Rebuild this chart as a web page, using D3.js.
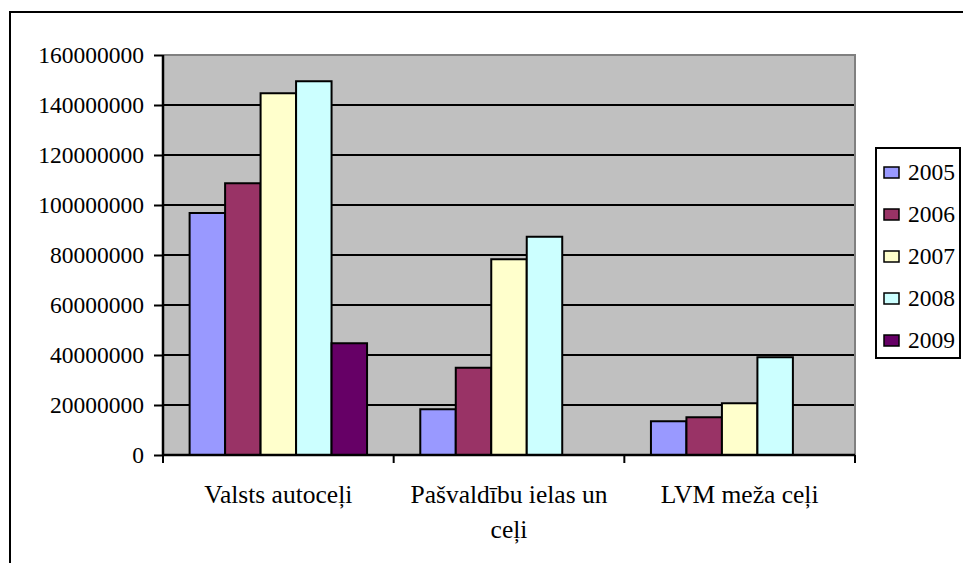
<!DOCTYPE html>
<html>
<head>
<meta charset="utf-8">
<script src="https://cdn.jsdelivr.net/npm/d3@7"></script>
<style>
  body { margin: 0; background: #fff; }
  svg text { font-family: "Liberation Serif", "Times New Roman", serif; fill: #000; }
</style>
</head>
<body>
<div id="chart"></div>
<script>
// categories and yearly series
var categories = ["Valsts autoceļi", "Pašvaldību ielas un ceļi", "LVM meža ceļi"];
var years = ["2005", "2006", "2007", "2008", "2009"];
var v2005 = [96800000, 18300000, 13500000];
var v2006 = [108700000, 34900000, 15100000];
var v2007 = [144700000, 78300000, 20700000];
var v2008 = [149500000, 87300000, 39100000];
var v2009 = [44700000, 0, 0];
var yTicks = [0, 20000000, 40000000, 60000000, 80000000, 100000000, 120000000, 140000000, 160000000];
var colors = ["#9999ff", "#993366", "#ffffcc", "#ccffff", "#660066"];

var series = [v2005, v2006, v2007, v2008, v2009];
var serifFont = "'Liberation Serif', 'Times New Roman', serif";

var W = 963, H = 563;
var margin = {top: 55, right: 108, bottom: 108, left: 163},
    width = W - margin.left - margin.right,
    height = H - margin.top - margin.bottom;

var svg = d3.select("#chart").append("svg")
    .attr("width", W)
    .attr("height", H)
    .attr("font-family", serifFont);

// outer frame (only top and left visible)
svg.append("path")
    .attr("d", "M10,563V12H963")
    .attr("fill", "none")
    .attr("stroke", "#000")
    .attr("stroke-width", 2);

var g = svg.append("g")
    .attr("transform", "translate(" + margin.left + "," + margin.top + ")");

var x0 = d3.scaleBand().domain(categories).range([0, width]).padding(0);
var x1 = d3.scaleBand().domain(years).range([0, x0.bandwidth()])
    .paddingInner(0).paddingOuter(0.75);
var y = d3.scaleLinear().domain([0, 160000000]).range([height, 0]);

// plot background
g.append("rect")
    .attr("width", width)
    .attr("height", height)
    .attr("fill", "#c0c0c0");

// gridlines
g.selectAll(".grid")
    .data(yTicks.filter(function(d){ return d > 0 && d < 160000000; }))
  .enter().append("line")
    .attr("x1", 0).attr("x2", width)
    .attr("y1", function(d){ return y(d); })
    .attr("y2", function(d){ return y(d); })
    .attr("stroke", "#000")
    .attr("stroke-width", 2);

// gray border top/right
g.append("path")
    .attr("d", "M0," + y(160000000) + "H" + width + "V" + height)
    .attr("fill", "none")
    .attr("stroke", "#808080")
    .attr("stroke-width", 2);

// bars
var groups = g.selectAll(".cat")
    .data(categories)
  .enter().append("g")
    .attr("transform", function(d){ return "translate(" + x0(d) + ",0)"; });

groups.selectAll("rect")
    .data(function(d, i){
      return years.map(function(yr, j){ return {year: yr, value: series[j][i], color: colors[j]}; })
        .filter(function(e){ return e.value > 0; });
    })
  .enter().append("rect")
    .attr("x", function(d){ return x1(d.year); })
    .attr("width", x1.bandwidth())
    .attr("y", function(d){ return y(d.value); })
    .attr("height", function(d){ return height - y(d.value); })
    .attr("fill", function(d){ return d.color; })
    .attr("stroke", "#000")
    .attr("stroke-width", 2);

// y axis
var yAxis = g.append("g")
    .call(d3.axisLeft(y).tickValues(yTicks).tickFormat(d3.format("d")).tickSize(9).tickPadding(10));
yAxis.attr("font-family", serifFont);
yAxis.select(".domain").attr("stroke", "#000").attr("stroke-width", 2.5)
    .attr("d", "M0," + height + "V0");
yAxis.selectAll(".tick line").attr("stroke-width", 2);
yAxis.selectAll("text").style("font-size", "23.5px").style("font-family", serifFont);

// x axis line and boundary ticks
g.append("line")
    .attr("x1", 0).attr("x2", width)
    .attr("y1", height).attr("y2", height)
    .attr("stroke", "#000").attr("stroke-width", 2.5);

var bounds = categories.map(function(c){ return x0(c); }).concat([x0.range()[1]]);
g.selectAll(".xtick")
    .data(bounds)
  .enter().append("line")
    .attr("x1", function(d){ return d; })
    .attr("x2", function(d){ return d; })
    .attr("y1", height).attr("y2", height + 8)
    .attr("stroke", "#000").attr("stroke-width", 2);

// category labels with wrapping
var labels = g.selectAll(".xlabel")
    .data(categories)
  .enter().append("text")
    .attr("text-anchor", "middle")
    .attr("x", function(d){ return x0(d) + x0.bandwidth() / 2; })
    .attr("y", height + 48)
    .style("font-size", "25.5px")
    .style("font-family", serifFont);

labels.each(function(d){
  var t = d3.select(this), words = d.split(" "), line = [];
  var tspan = t.append("tspan").attr("x", t.attr("x")).attr("dy", 0);
  words.forEach(function(w){
    line.push(w);
    tspan.text(line.join(" "));
    if (tspan.node().getComputedTextLength() > x0.bandwidth() - 10 && line.length > 1) {
      line.pop();
      tspan.text(line.join(" "));
      line = [w];
      tspan = t.append("tspan").attr("x", t.attr("x")).attr("dy", 35).text(w);
    }
  });
});

// legend
var legend = svg.append("g").attr("transform", "translate(876,148)");
legend.append("rect")
    .attr("width", 84).attr("height", 210)
    .attr("fill", "#fff").attr("stroke", "#000").attr("stroke-width", 2);

var items = legend.selectAll(".item")
    .data(years)
  .enter().append("g")
    .attr("transform", function(d, i){ return "translate(0," + (24 + i * 42) + ")"; });

items.append("rect")
    .attr("x", 8).attr("y", -5)
    .attr("width", 15).attr("height", 11)
    .attr("fill", function(d, i){ return colors[i]; })
    .attr("stroke", "#000").attr("stroke-width", 1.5);

items.append("text")
    .attr("x", 32).attr("y", 8)
    .style("font-size", "23.5px")
    .style("font-family", serifFont)
    .text(function(d){ return d; });
</script>
</body>
</html>
